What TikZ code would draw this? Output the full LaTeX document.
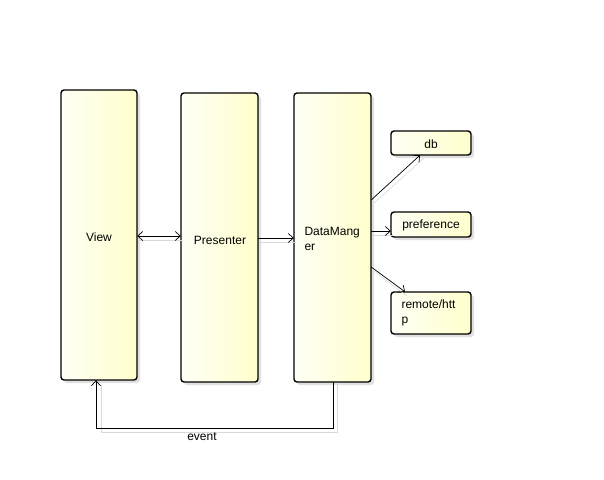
\documentclass[tikz,border=0pt]{standalone}
\usepackage{fontspec}
\setmainfont{Liberation Sans}
\usetikzlibrary{arrows.meta,shadows}
\begin{document}
\begin{tikzpicture}[x=1pt,y=-1pt,
  box/.style={draw=black, line width=1.4pt, rounded corners=3pt,
    left color=white!70!yellow!12, right color=yellow!20,
    drop shadow={shadow xshift=3pt, shadow yshift=-3pt, fill=black!20, opacity=0.6},
    inner sep=0pt},
  txt/.style={font=\fontsize{12}{15.5}\selectfont},
  lbl/.style={txt, align=left, anchor=west},
  conn/.style={line width=0.7pt, black, -{Straight Barb[length=5pt,width=9pt]}},
  shadowline/.style={line width=0.6pt, black!15}
]
\useasboundingbox (0,0) rectangle (604,479);
% boxes
\path[box] (61,90) rectangle (137,380);
\node (view) at (99,235) [inner sep=0pt, minimum width=76pt, minimum height=290pt] {};
\node[txt] at (99,237) {View};
\path[box] (181,93) rectangle (258,382);
\node (pres) at (219.5,237.5) [inner sep=0pt, minimum width=77pt, minimum height=289pt] {};
\node[txt] at (220,240) {Presenter};
\path[box] (294,93) rectangle (371,382);
\node (dm) at (332.5,237.5) [inner sep=0pt, minimum width=77pt, minimum height=289pt] {};
\node[lbl] at (301,239) {DataMang\\er};
\path[box] (391,131) rectangle (471,155);
\node (db) at (431,143) [inner sep=0pt, minimum width=80pt, minimum height=24pt] {};
\node[txt] at (431,144) {db};
\path[box] (391,212) rectangle (471,237);
\node (pref) at (431,224.5) [inner sep=0pt, minimum width=80pt, minimum height=25pt] {};
\node[txt] at (431,225) {preference};
\path[box] (391,292) rectangle (471,334);
\node (rem) at (431,313) [inner sep=0pt, minimum width=80pt, minimum height=42pt] {};
\node[lbl] at (398,313) {remote/htt\\p};
% connector shadows
\draw[shadowline] (139,240) -- (183,240);
\draw[shadowline] (260,242) -- (296,242);
\draw[shadowline] (374,203) -- (424,158);
\draw[shadowline] (374,235) -- (393,235);
\draw[shadowline] (374,271) -- (407,296);
\draw[shadowline] (337,384) -- (337,432) -- (101,432) -- (101,385);
% connectors
\draw[conn, {Straight Barb[length=5pt,width=9pt]}-{Straight Barb[length=5pt,width=9pt]}] (view.east|-0,236) -- (pres.west|-0,236);
\draw[conn] (pres.east|-0,238) -- (dm.west|-0,238);
\draw[conn] (dm.east|-0,200) -- (db.south west-|420,0);
\draw[conn] (dm.east|-0,231) -- (pref.west|-0,231);
\draw[conn] (dm.east|-0,267) -- (rem.north west-|405,0);
\draw[conn] (dm.south-|333,0) -- (333,428) -- (96,428) -- (view.south-|96,0);
\node[txt] (ev) at (202,437) {event};
\end{tikzpicture}
\end{document}
